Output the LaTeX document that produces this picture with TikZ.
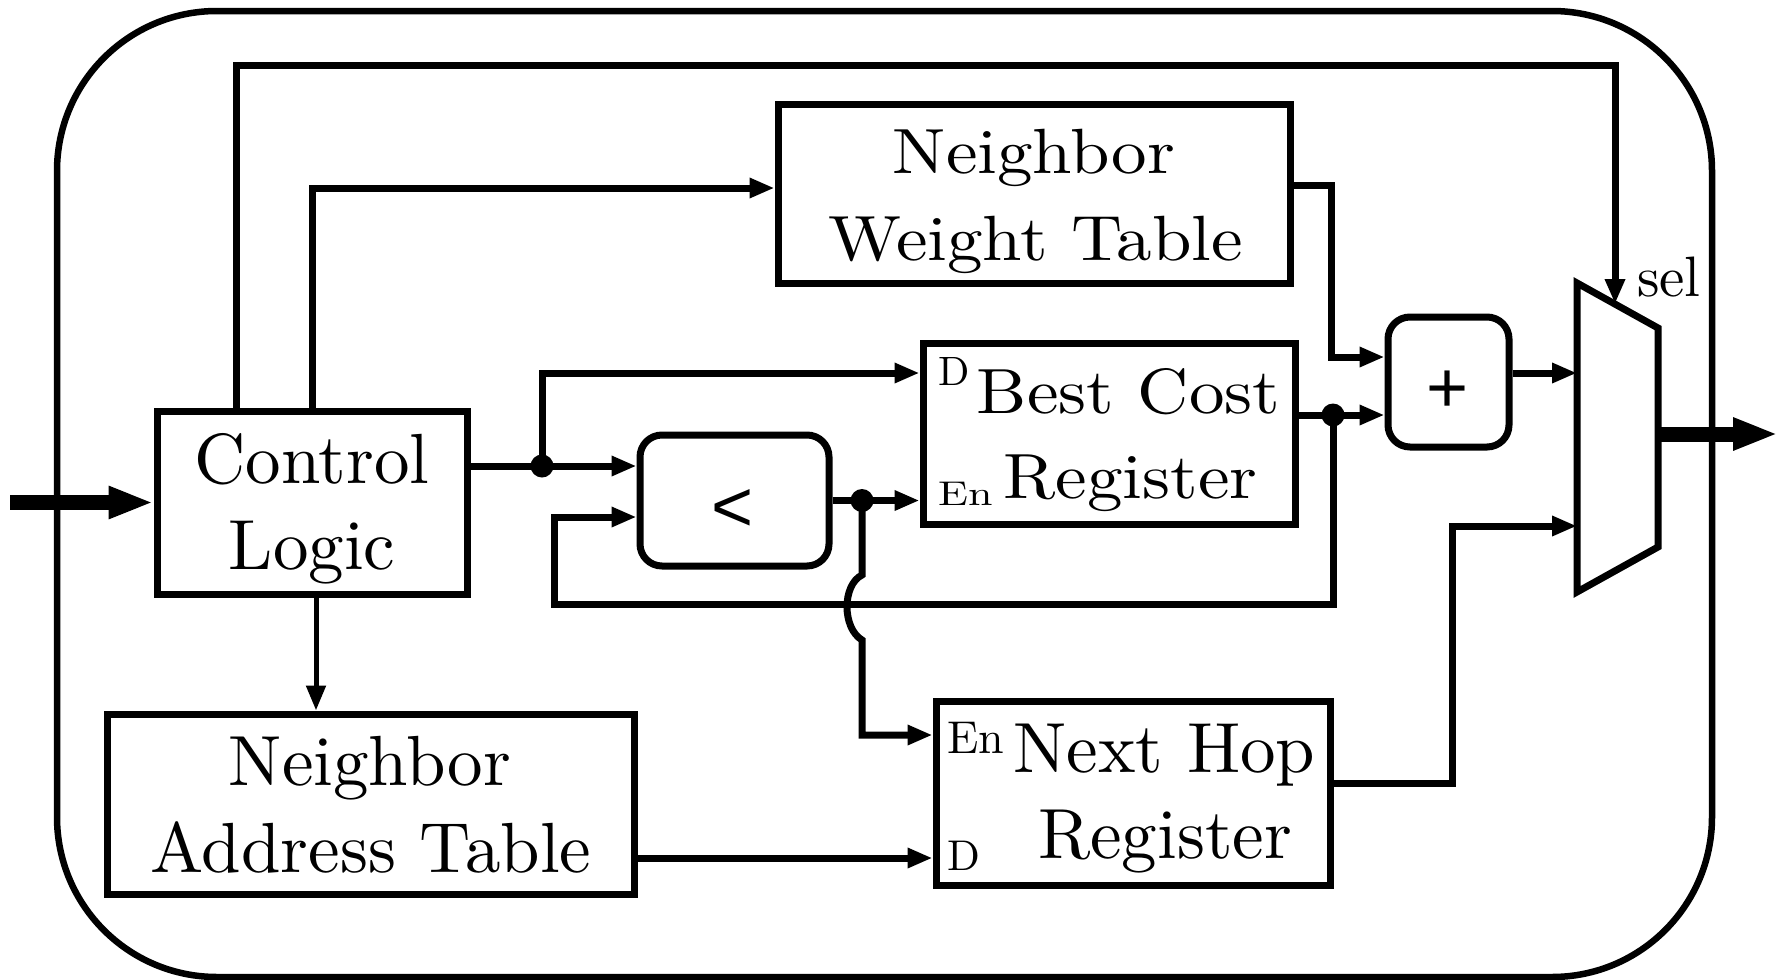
\documentclass[tikz,border=0pt]{standalone}
\usepackage{fontspec}
\usepackage{graphicx}
\newfontfamily\opfont{Liberation Sans}
\newfontfamily\lmten{lmroman10-regular.otf}
\usetikzlibrary{arrows.meta}
\newcommand{\ysq}[1]{\scalebox{1}[0.9]{#1}}
\begin{document}
\begin{tikzpicture}[x=1pt,y=-1pt,
  box/.style={draw,line width=7pt,inner sep=0pt,rectangle},
  opbox/.style={draw,line width=7pt,inner sep=0pt,rectangle,rounded corners=22pt},
  wire/.style={line width=7pt,-{Triangle[length=25pt,width=19pt]}},
  fatwire/.style={line width=15pt,-{Triangle[length=45pt,width=30pt]}},
  lbl/.style={anchor=base,inner sep=0pt,font=\lmten\fontsize{71}{86}\selectfont},
  small/.style={anchor=base west,inner sep=0pt},
  oplbl/.style={anchor=base,inner sep=0pt,font=\opfont\fontsize{72}{80}\selectfont},
  dot/.style={circle,fill,inner sep=0pt,minimum size=23pt}
]
\useasboundingbox (0,0) rectangle (1789,980);
% outer frame
\draw[line width=6.5pt,rounded corners=160pt] (57,11) rectangle (1712,977);

% boxes
\node[box,minimum width=310pt,minimum height=183pt] (cl) at (312,502.5) {};
\node[box,minimum width=512pt,minimum height=179pt] (nwt) at (1034,193.5) {};
\node[box,minimum width=372pt,minimum height=181pt] (bcr) at (1109,433.5) {};
\node[box,minimum width=527pt,minimum height=180pt] (nat) at (370.5,804) {};
\node[box,minimum width=394pt,minimum height=184pt] (nhr) at (1133,793) {};
\node[opbox,minimum width=189pt,minimum height=131pt] (lt) at (734.5,500.5) {};
\node[opbox,minimum width=121pt,minimum height=130pt] (plus) at (1448.5,382) {};

% mux
\coordinate (muxTL) at (1577,283);
\coordinate (muxTR) at (1658,328);
\coordinate (muxBR) at (1658,547);
\coordinate (muxBL) at (1577,592);
\draw[line width=7pt,line join=miter] (muxTL) -- (muxTR) -- (muxBR) -- (muxBL) -- cycle;
\coordinate (muxsel) at (1615,304);
\coordinate (muxA) at (1577,373);
\coordinate (muxB) at (1577,526);
\coordinate (muxO) at (1658,434);
\coordinate (outp) at (1778,434);
\coordinate (inp) at (10,502.5);

% texts
\node[lbl] (clt1) at (312,483) {Control};
\node[lbl] (clt2) at (312,569) {Logic};
\node[lbl] (nwt1) at (1034,173) {\ysq{Neighbor}};
\node[lbl] (nwt2) at (1036,260) {\ysq{Weight Table}};
\node[lbl] (bcr1) at (1128.5,413) {\ysq{Best Cost}};
\node[lbl] (bcr2) at (1130.5,498) {\ysq{Register}};
\node[small,font=\lmten\fontsize{41}{41}\selectfont] (bcrd) at (938,385) {D};
\node[small,font=\lmten\fontsize{44}{44}\selectfont] (bcren) at (938,505) {\scalebox{1}[0.78]{En}};
\node[lbl] (nat1) at (370,785) {Neighbor};
\node[lbl] (nat2) at (371,872) {Address Table};
\node[lbl] (nhr1) at (1164.5,772) {Next Hop};
\node[lbl] (nhr2) at (1165,858) {Register};
\node[small,font=\lmten\fontsize{46}{46}\selectfont] (nhren) at (947,753) {En};
\node[small,font=\lmten\fontsize{43}{43}\selectfont] (nhrd) at (947,870) {D};
\node[small,font=\lmten\fontsize{57}{57}\selectfont] (sel) at (1637,296) {sel};
\node[oplbl] (ltsym) at (733,531) {<};
\node[oplbl] (plussym) at (1448,412) {+};

% junctions
\coordinate (j1) at (542,466);
\coordinate (j3) at (862,500.5);
\coordinate (j2) at (1333,415);

% connectors
\draw[fatwire] (inp) -- (cl.west);
\draw[wire] ([xshift=-76pt]cl.north) -- ++(0,-342) -| (muxsel);
\draw[wire] (cl.north) |- ([yshift=5.5pt]nwt.west);
\draw[wire] ([yshift=8.5pt]nwt.east) -- ++(38,0) |- ([yshift=25pt]plus.west);
\draw[wire] ([yshift=36.5pt]cl.east) -- ([yshift=34.5pt]lt.west);
\draw[wire] (j1) |- ([yshift=60.5pt]bcr.west);
\draw[wire] (lt.east) -- (bcr.west |- lt.east);
\draw[wire] (j3) -- (862,575) .. controls (842,585) and (842,628) .. (862,640) |- ([yshift=58pt]nhr.west);
\draw[wire] ([yshift=18.5pt]bcr.east) -- ([yshift=-33pt]plus.west);
\draw[wire] (j2) -- ++(0,189) -| ([xshift=-82pt,yshift=-16.5pt]lt.west) -- ([yshift=-16.5pt]lt.west);
\draw[wire] ([yshift=9pt]plus.east) -- (muxA);
\draw[wire] ([yshift=-54pt]nat.east) -- ([yshift=-65pt]nhr.west);
\draw[wire] ([yshift=10pt]nhr.east) -- ++(119,0) |- (muxB);
\draw[wire,line width=5pt] ([xshift=4pt]cl.south) -- ([xshift=4pt]cl.south |- nat.north);
\draw[fatwire] (muxO) -- (outp);

\node[dot] (d1) at (j1) {};
\node[dot] (d2) at (j2) {};
\node[dot] (d3) at (j3) {};
\end{tikzpicture}
\end{document}
